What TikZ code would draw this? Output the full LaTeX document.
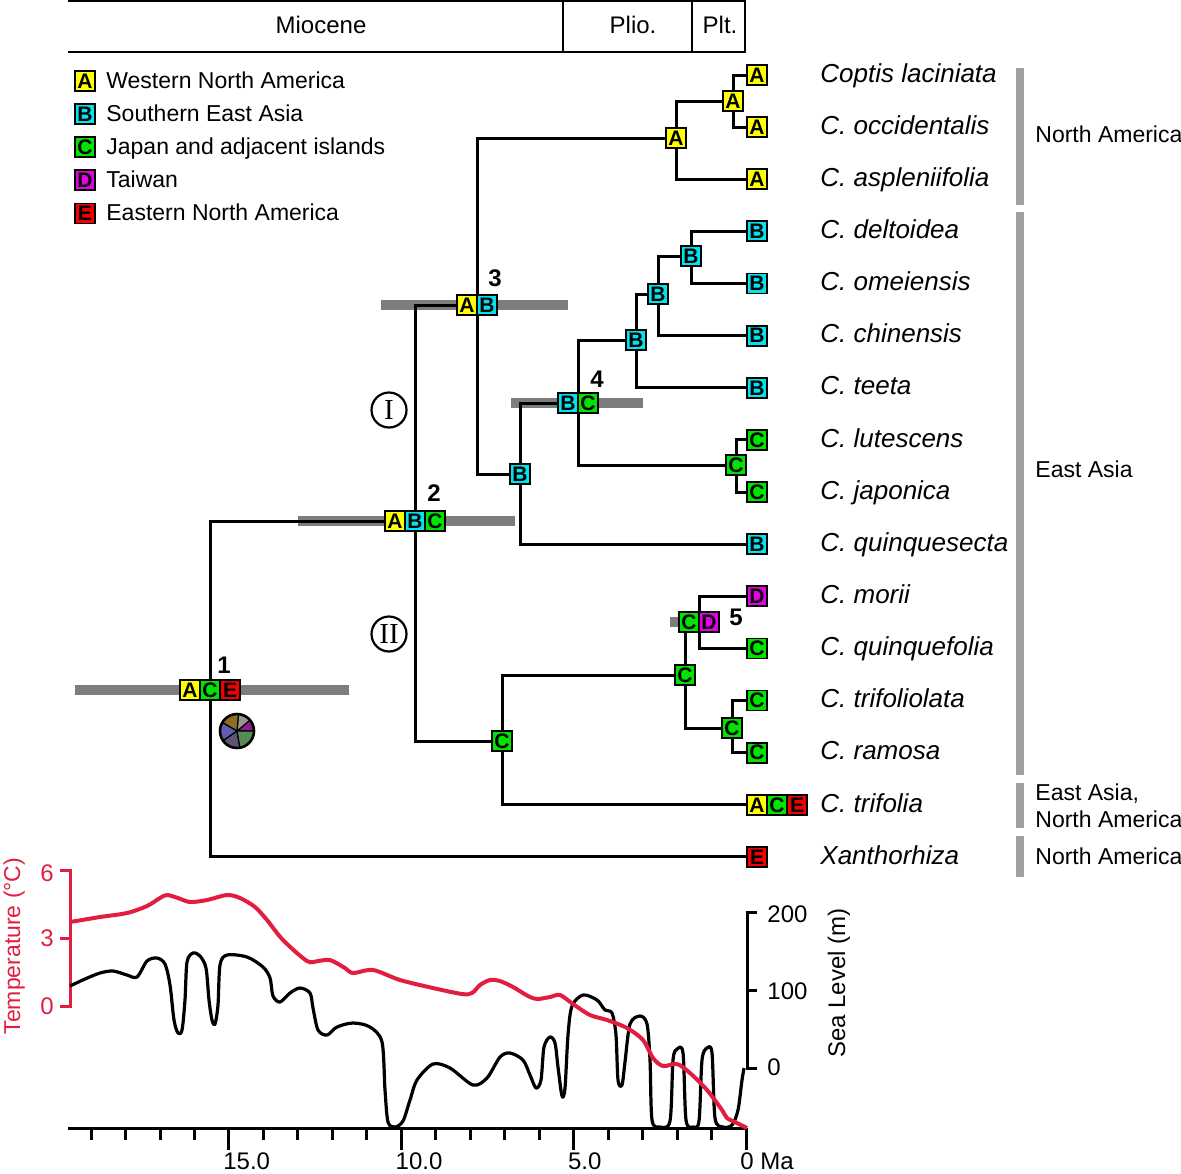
\documentclass[tikz,border=0pt]{standalone}
\usepackage{fontspec}
\setmainfont{Liberation Sans}
\newfontfamily\clfont{Liberation Serif}
\usetikzlibrary{positioning}
\pgfdeclarelayer{background}
\pgfsetlayers{background,main}
\definecolor{regA}{RGB}{255,255,0}
\definecolor{regB}{RGB}{0,228,240}
\definecolor{regC}{RGB}{0,228,0}
\definecolor{regD}{RGB}{228,0,228}
\definecolor{regE}{RGB}{240,0,0}
\definecolor{hpdgray}{RGB}{125,125,125}
\definecolor{areagray}{RGB}{160,160,160}
\definecolor{tempred}{RGB}{226,30,64}
\definecolor{pieolive}{RGB}{140,110,35}
\definecolor{piegray}{RGB}{150,150,150}
\definecolor{piepurple}{RGB}{140,30,140}
\definecolor{piegreen}{RGB}{85,140,85}
\definecolor{piedark}{RGB}{95,85,115}
\definecolor{pieblue}{RGB}{95,95,175}
\begin{document}
\begin{tikzpicture}[x=0.5pt, y=-0.5pt,
    region/.style={draw, line width=0.9pt, fill=reg#1, minimum size=10pt, inner sep=0pt, outer sep=0pt,
      font=\bfseries\fontsize{10.5}{11}\selectfont},
    species/.style={anchor=west, inner sep=0pt, text height=0.72em, text depth=0pt,
      font=\itshape\fontsize{13}{15}\selectfont},
    legtext/.style={anchor=west, inner sep=0pt, text height=0.72em, text depth=0pt,
      font=\fontsize{11.5}{13}\selectfont},
    axnum/.style={inner sep=0pt, text height=0.72em, text depth=0pt, font=\fontsize{12}{14}\selectfont},
    num/.style={inner sep=0pt, font=\bfseries\fontsize{12}{14}\selectfont},
    clade/.style={draw, circle, line width=1.1pt, minimum size=17.5pt, inner sep=0pt,
      font=\clfont\fontsize{14.5}{15}\selectfont},
    branch/.style={line width=1.5pt},
    hpd/.style={fill=hpdgray},
    areabar/.style={line width=4pt, draw=areagray},
    frame/.style={line width=1.3pt},
    tick/.style={line width=1.5pt}
  ]
  \useasboundingbox (0,0) rectangle (1181,1173);

  \draw[frame] (68,1) -- (746,1) (68,52) -- (746,52);
  \draw[frame] (563,1) -- (563,52) (692,1) -- (692,52) (745,1) -- (745,52);
  \node[axnum] (miocene) at (321,26) {Miocene};
  \node[axnum] (plio) at (633,26) {Plio.};
  \node[axnum] (plt) at (720,26) {Plt.};

  \foreach \r/\t [count=\i] in {A/Western North America, B/Southern East Asia,
      C/Japan and adjacent islands, D/Taiwan, E/Eastern North America} {
    \node[region=\r] (key\r) at (85,{81+33.1*(\i-1)}) {\r};
    \node[legtext, right=5.5pt of key\r] (keytext\r) {\t};
  }

  \foreach \n/\r [count=\i] in {Coptis laciniata/A, C. occidentalis/A, C. aspleniifolia/A,
      C. deltoidea/B, C. omeiensis/B, C. chinensis/B, C. teeta/B, C. lutescens/C,
      C. japonica/C, C. quinquesecta/B, C. morii/D, C. quinquefolia/C,
      C. trifoliolata/C, C. ramosa/C, C. trifolia/A, Xanthorhiza/E} {
    \node[region=\r] (leaf\i) at (757,{75+52.13*(\i-1)}) {\r};
    \node[species] (sp\i) at (820,{75+52.13*(\i-1)}) {\n};
  }
  \node[region=C, right=0pt of leaf15] (leaf15c) {C};
  \node[region=E, right=0pt of leaf15c] (leaf15e) {E};

  \node[region=A] (nA2) at (733,101) {A};
  \node[region=A] (nA1) at (676,138) {A};
  \coordinate (n3) at (477,305);
  \node[region=A, anchor=east] (n3a) at (n3) {A};
  \node[region=B, anchor=west] (n3b) at (n3) {B};
  \node[region=B] (nB4) at (520,474) {B};
  \coordinate (n4) at (578,403);
  \node[region=B, anchor=east] (n4b) at (n4) {B};
  \node[region=C, anchor=west] (n4c) at (n4) {C};
  \node[region=B] (nB3) at (636,340) {B};
  \node[region=B] (nB2) at (658,294) {B};
  \node[region=B] (nB1) at (691,256) {B};
  \node[region=C] (nC4) at (736,465) {C};
  \node[region=B] (n2b) at (415,521) {B};
  \node[region=A, left=0pt of n2b] (n2a) {A};
  \node[region=C, right=0pt of n2b] (n2c) {C};
  \node[region=C] (nC3) at (502,741) {C};
  \node[region=C] (nC2) at (685,675) {C};
  \coordinate (n5) at (699,622);
  \node[region=C, anchor=east] (n5c) at (n5) {C};
  \node[region=D, anchor=west] (n5d) at (n5) {D};
  \node[region=C] (nC1) at (732,728) {C};
  \node[region=C] (n1c) at (210,690) {C};
  \node[region=A, left=0pt of n1c] (n1a) {A};
  \node[region=E, right=0pt of n1c] (n1e) {E};

  \node[num] (lab1) at (224,665) {1};
  \node[num] (lab2) at (434,493) {2};
  \node[num] (lab3) at (495,278) {3};
  \node[num] (lab4) at (597,379) {4};
  \node[num] (lab5) at (736,617) {5};
  \node[clade] (cladeI) at (389,410) {I};
  \node[clade] (cladeII) at (389,634) {II};

  \begin{pgfonlayer}{background}
    \fill[hpd] (75,685) rectangle (349,695);
    \fill[hpd] (298,516) rectangle (515,526);
    \fill[hpd] (381,300) rectangle (568,310);
    \fill[hpd] (511,398) rectangle (643,408);
    \fill[hpd] (670,617) rectangle (690,627);
    \draw[branch] (n2b) -| (n1c) |- (leaf16);
    \draw[branch] (n3) -| (n2b) |- (nC3);
    \draw[branch] (nA1) -| (n3) |- (nB4);
    \draw[branch] (nA2) -| (nA1) |- (leaf3);
    \draw[branch] (leaf1) -| (nA2) |- (leaf2);
    \draw[branch] (n4) -| (nB4) |- (leaf10);
    \draw[branch] (nB3) -| (n4) |- (nC4);
    \draw[branch] (nB2) -| (nB3) |- (leaf7);
    \draw[branch] (nB1) -| (nB2) |- (leaf6);
    \draw[branch] (leaf4) -| (nB1) |- (leaf5);
    \draw[branch] (leaf8) -| (nC4) |- (leaf9);
    \draw[branch] (nC2) -| (nC3) |- (leaf15);
    \draw[branch] (n5) -| (nC2) |- (nC1);
    \draw[branch] (leaf11) -| (n5) |- (leaf12);
    \draw[branch] (leaf13) -| (nC1) |- (leaf14);
  \end{pgfonlayer}

  \coordinate (pie) at (237,731);
  \foreach \a/\b/\c in {0/40/piepurple, 40/85/piegray, 85/150/pieolive,
      150/215/pieblue, 215/280/piedark, 280/360/piegreen}
    \filldraw[fill=\c, draw=black, line width=0.6pt] (pie) -- ++(-\a:17)
      arc[start angle=-\a, end angle=-\b, radius=17] -- cycle;
  \draw[line width=1.3pt] (pie) circle[radius=17];

  \draw[areabar] (1020,68) -- (1020,205);
  \draw[areabar] (1020,212) -- (1020,775);
  \draw[areabar] (1020,783) -- (1020,828);
  \draw[areabar] (1020,836) -- (1020,877);
  \node[legtext] (distNA) at (1035,135) {North America};
  \node[legtext] (distEA) at (1035,470) {East Asia};
  \node[legtext] (distEANA) at (1035,793) {East Asia,};
  \node[legtext] (distEANA2) at (1035,820) {North America};
  \node[legtext] (distENA) at (1035,857) {North America};

  \draw[tick, tempred] (60,870) -- (70,870) -- (70,1006) -- (60,1006) (70,938) -- (60,938);
  \foreach \v/\y in {6/874, 3/939, 0/1007}
    \node[axnum, tempred, anchor=east] (temp\v) at (54,\y) {\v};
  \node[axnum, tempred, rotate=90, font=\fontsize{11.5}{13}\selectfont] (templabel) at (13,946) {Temperature (°C)};

  \draw[tick] (757,912) -- (747,912) -- (747,1068) -- (757,1068) (747,990) -- (757,990);
  \foreach \v/\y in {200/915, 100/992, 0/1068}
    \node[axnum, anchor=west] (sea\v) at (767,\y) {\v};
  \node[axnum, rotate=90] (sealabel) at (838,983) {Sea Level (m)};

  \draw[tick] (68,1128) -- (747,1128);
  \foreach \t in {1,...,19}
    \draw[tick] ({746-34.47*\t},1128) -- ++(0,12);
  \foreach \t in {0,5,10,15}
    \draw[tick] ({746-34.47*\t},1128) -- ++(0,22);
  \foreach \t/\s in {15/15.0, 10/10.0, 5/5.0}
    \node[axnum, anchor=west] (age\t) at ({740-34.47*\t},1162) {\s};
  \node[axnum, anchor=west] (age0) at (740,1162) {0 Ma};

  \draw[line width=1.6pt, line join=round] plot[smooth, tension=0.5] coordinates {
    (70,986) (85,979) (100,973) (113,971) (127,975) (137,977) (147,961) (157,958)
    (165,964) (170,985) (174,1020) (178,1033) (182,1030) (185,1000) (187,962) (193,953)
    (200,956) (206,968) (209,1000) (212,1020) (215,1024) (218,1005) (220,965) (227,955)
    (247,957) (263,967) (270,978) (273,996) (280,1002) (290,993) (300,988) (310,993)
    (313,1008) (318,1030) (327,1035) (337,1027) (353,1023) (370,1027) (382,1042) (385,1090)
    (388,1122) (395,1127) (403,1121) (410,1100) (417,1080) (433,1064) (450,1068) (473,1085)
    (487,1078) (500,1057) (510,1053) (523,1060) (530,1075) (536,1088) (541,1080) (544,1047)
    (550,1037) (555,1043) (558,1067) (562,1096) (565,1088) (568,1035) (572,1006) (583,995)
    (597,1000) (605,1010) (612,1013) (616,1035) (618,1080) (622,1085) (625,1062) (630,1024)
    (640,1016) (647,1024) (650,1060) (652,1120) (660,1127) (670,1121) (673,1060) (677,1049)
    (683,1053) (686,1120) (693,1127) (699,1121) (702,1060) (707,1048) (712,1053) (715,1118)
    (723,1127) (732,1125) (738,1110) (742,1080) (744,1068)};
  \draw[line width=2pt, tempred, line join=round] plot[smooth, tension=0.5] coordinates {
    (70,922) (100,917) (127,913) (147,906) (160,898) (167,895) (178,898) (190,902)
    (207,900) (227,895) (240,898) (255,907) (267,920) (283,940) (307,961) (318,961)
    (330,960) (345,968) (353,973) (373,970) (400,980) (433,988) (462,994) (472,993)
    (480,985) (490,980) (500,981) (513,987) (528,996) (537,999) (550,997) (560,995)
    (573,1004) (590,1015) (607,1020) (627,1028) (643,1040) (653,1058) (663,1066) (677,1064)
    (690,1073) (707,1090) (722,1110) (727,1118) (737,1123) (747,1128)};
\end{tikzpicture}
\end{document}
